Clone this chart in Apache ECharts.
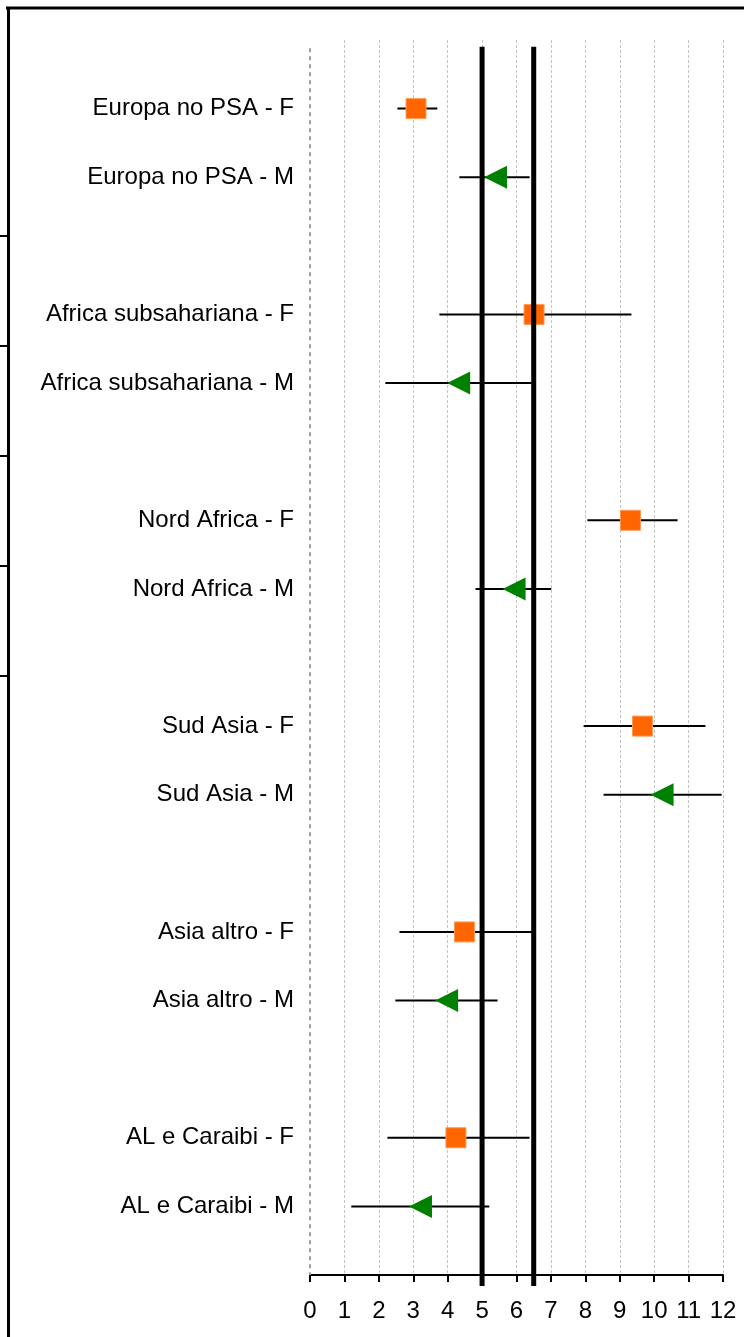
<!DOCTYPE html>
<html>
<head>
<meta charset="utf-8">
<script src="https://cdn.jsdelivr.net/npm/echarts@6/dist/echarts.min.js"></script>
<style>
html,body{margin:0;padding:0;background:#fff;}
#chart{width:744px;height:1337px;}
</style>
</head>
<body>
<div id="chart"></div>
<script>
// ---- data ----
const groups = ['Europa no PSA', 'Africa subsahariana', 'Nord Africa', 'Sud Asia', 'Asia altro', 'AL e Caraibi'];
const femaleValue = [3.08, 6.51, 9.31, 9.66, 4.49, 4.24];
const femaleLow   = [2.54, 3.76, 8.06, 7.95, 2.60, 2.25];
const femaleHigh  = [3.70, 9.34, 10.68, 11.49, 6.47, 6.38];
const maleValue   = [5.39, 4.32, 5.93, 10.23, 3.97, 3.21];
const maleLow     = [4.34, 2.19, 4.81, 8.53, 2.48, 1.20];
const maleHigh    = [6.38, 6.44, 7.01, 11.96, 5.45, 5.21];
const refLines    = [5, 6.5];
const xTickMin = 0, xTickMax = 12, xTickStep = 1;

// ---- build ----
const rowLabels = {};
const femaleRows = [], maleRows = [], errRows = [];
groups.forEach((g, i) => {
  const rf = 3 * i, rm = 3 * i + 1;
  rowLabels[rf] = g + ' - F';
  rowLabels[rm] = g + ' - M';
  femaleRows.push([femaleValue[i], rf]);
  maleRows.push([maleValue[i], rm]);
  errRows.push([femaleLow[i], femaleHigh[i], rf]);
  errRows.push([maleLow[i], maleHigh[i], rm]);
});

const chart = echarts.init(document.getElementById('chart'), null, {renderer: 'canvas'});
const FONT = 'Liberation Sans, Arial, sans-serif';

const refSeries = refLines.map(v => ({
  type: 'line',
  data: [[v, -0.9], [v, 17.16]],
  symbol: 'none',
  clip: false,
  z: 10,
  silent: true,
  lineStyle: {color: '#000', width: 5}
}));

chart.setOption({
  animation: false,
  backgroundColor: '#fff',
  grid: {left: 310, right: 21, top: 40, bottom: 62, containLabel: false},
  xAxis: {
    type: 'value', min: xTickMin, max: xTickMax, interval: xTickStep,
    axisLine: {show: true, onZero: false, lineStyle: {color: '#000', width: 2}},
    axisTick: {show: true, length: 7, lineStyle: {color: '#000', width: 2}},
    axisLabel: {color: '#000', fontSize: 24, fontFamily: FONT, margin: 24},
    splitLine: {show: true, showMinLine: false, lineStyle: {color: '#c4c4c4', width: 1, type: [3, 2]}}
  },
  yAxis: {
    type: 'value', min: -1, max: 17, interval: 1, inverse: true,
    axisLine: {show: false}, axisTick: {show: false},
    splitLine: {show: false},
    axisLabel: {
      color: '#000', fontSize: 24, fontFamily: FONT, margin: 16,
      padding: [6, 0, 0, 0],
      formatter: v => rowLabels[v] || ''
    }
  },
  series: [
    {
      type: 'line',
      data: [[0, -0.88], [0, 17]],
      symbol: 'none', clip: false, silent: true, z: 1,
      lineStyle: {color: '#a0a0a0', width: 2, type: [4, 4]}
    },
    {
      type: 'custom',
      data: errRows,
      encode: {x: [0, 1], y: 2},
      z: 3,
      renderItem: (params, api) => {
        const a = api.coord([api.value(0), api.value(2)]);
        const b = api.coord([api.value(1), api.value(2)]);
        return {type: 'line', shape: {x1: a[0], y1: a[1], x2: b[0], y2: b[1]},
                style: {stroke: '#000', lineWidth: 2}};
      }
    },
    {
      type: 'scatter', data: femaleRows, symbol: 'rect', symbolSize: 20, z: 5,
      itemStyle: {color: '#FF6600', borderColor: '#FF9955', borderWidth: 1, opacity: 1}
    },
    {
      type: 'scatter', data: maleRows, symbol: 'triangle', symbolSize: [23, 23], symbolRotate: 90, z: 5,
      itemStyle: {color: '#008000', opacity: 1}
    },
    ...refSeries
  ],
  graphic: [
    {type: 'line', shape: {x1: 6, y1: 8, x2: 744, y2: 8}, style: {stroke: '#000', lineWidth: 3}, z: 100},
    {type: 'line', shape: {x1: 8.5, y1: 7, x2: 8.5, y2: 1337}, style: {stroke: '#000', lineWidth: 3}, z: 100},
    ...[236, 346, 456, 566, 676].map(y => ({type: 'line', shape: {x1: 0, y1: y, x2: 9, y2: y}, style: {stroke: '#000', lineWidth: 2}, z: 100}))
  ]
});
</script>
</body>
</html>
